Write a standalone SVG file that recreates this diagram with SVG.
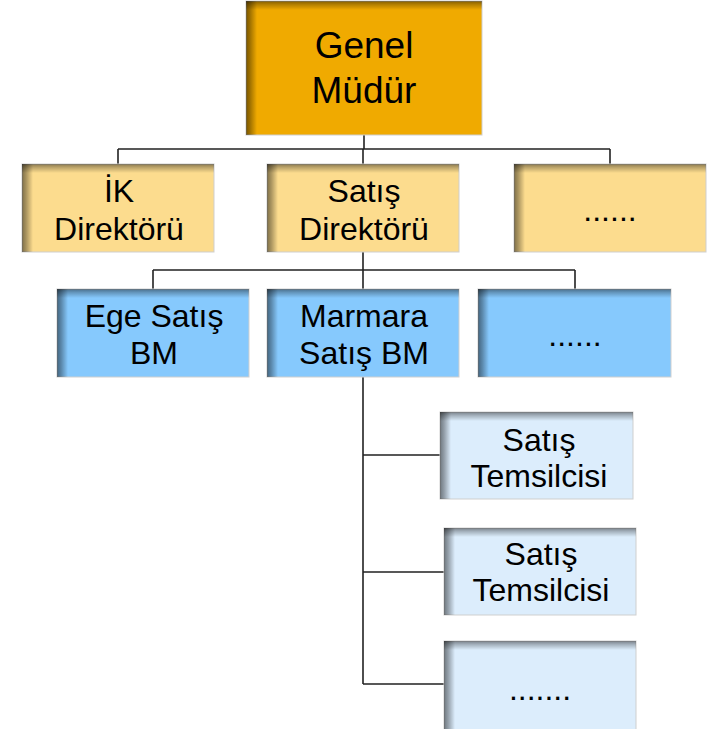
<svg xmlns="http://www.w3.org/2000/svg" width="714" height="729" viewBox="0 0 714 729">
<defs>
<linearGradient id="shL" x1="0" y1="0" x2="1" y2="0">
<stop offset="0" stop-color="#000" stop-opacity="0.5"/>
<stop offset="0.4" stop-color="#000" stop-opacity="0.32"/>
<stop offset="1" stop-color="#000" stop-opacity="0"/>
</linearGradient>
<linearGradient id="shT" x1="0" y1="0" x2="0" y2="1">
<stop offset="0" stop-color="#000" stop-opacity="0.45"/>
<stop offset="0.4" stop-color="#000" stop-opacity="0.25"/>
<stop offset="1" stop-color="#000" stop-opacity="0"/>
</linearGradient>
</defs>
<style>
.box{stroke:#cfcfcf;stroke-width:1}
.top{fill:#F0AA00}
.l1{fill:#FCDC8E}
.l2{fill:#86C9FD}
.l3{fill:#DCEDFC}
.sl{fill:url(#shL)}
.st{fill:url(#shT)}
text{font-family:"Liberation Sans",Arial,sans-serif;fill:#000;text-anchor:middle}
.t0{font-size:37px}
.t1{font-size:32px}
.con{stroke:#222;stroke-width:1.6;fill:none}
</style>
<rect width="714" height="729" fill="#fff"/>
<g id="connectors">
<path class="con" d="M364 135V149M118 149H610M118 149V164M363 149V164M610 149V164"/>
<path class="con" d="M363 252V289M153 270H575M153 270V289M575 270V289"/>
<path class="con" d="M363 377V684M363 455H440M363 572H444M363 684H444"/>
</g>
<g id="genel-mudur">
<rect class="box top" x="246" y="1" width="236" height="134"/>
<rect class="sl" x="246" y="1" width="11" height="134"/>
<rect class="st" x="246" y="1" width="236" height="9"/>
<text class="t0" x="364" y="58">Genel</text>
<text class="t0" x="364" y="103">Müdür</text>
</g>
<g id="ik-direktoru">
<rect class="box l1" x="22" y="164" width="192" height="88"/>
<rect class="sl" x="22" y="164" width="11" height="88"/>
<rect class="st" x="22" y="164" width="192" height="9"/>
<text class="t1" x="119" y="202">İK</text>
<text class="t1" x="119" y="240">Direktörü</text>
</g>
<g id="satis-direktoru">
<rect class="box l1" x="267" y="164" width="192" height="88"/>
<rect class="sl" x="267" y="164" width="11" height="88"/>
<rect class="st" x="267" y="164" width="192" height="9"/>
<text class="t1" x="364" y="202">Satış</text>
<text class="t1" x="364" y="240">Direktörü</text>
</g>
<g id="direktor-diger">
<rect class="box l1" x="514" y="164" width="192" height="88"/>
<rect class="sl" x="514" y="164" width="11" height="88"/>
<rect class="st" x="514" y="164" width="192" height="9"/>
<text class="t1" x="610" y="221">......</text>
</g>
<g id="ege-satis-bm">
<rect class="box l2" x="57" y="289" width="192" height="88"/>
<rect class="sl" x="57" y="289" width="11" height="88"/>
<rect class="st" x="57" y="289" width="192" height="9"/>
<text class="t1" x="154" y="327">Ege Satış</text>
<text class="t1" x="154" y="364">BM</text>
</g>
<g id="marmara-satis-bm">
<rect class="box l2" x="267" y="289" width="192" height="88"/>
<rect class="sl" x="267" y="289" width="11" height="88"/>
<rect class="st" x="267" y="289" width="192" height="9"/>
<text class="t1" x="364" y="327">Marmara</text>
<text class="t1" x="364" y="364">Satış BM</text>
</g>
<g id="bm-diger">
<rect class="box l2" x="478" y="289" width="193" height="88"/>
<rect class="sl" x="478" y="289" width="11" height="88"/>
<rect class="st" x="478" y="289" width="193" height="9"/>
<text class="t1" x="575" y="346">......</text>
</g>
<g id="satis-temsilcisi-1">
<rect class="box l3" x="440" y="412" width="193" height="87"/>
<rect class="sl" x="440" y="412" width="11" height="87"/>
<rect class="st" x="440" y="412" width="193" height="9"/>
<text class="t1" x="539" y="451">Satış</text>
<text class="t1" x="539" y="487">Temsilcisi</text>
</g>
<g id="satis-temsilcisi-2">
<rect class="box l3" x="444" y="528" width="192" height="87"/>
<rect class="sl" x="444" y="528" width="11" height="87"/>
<rect class="st" x="444" y="528" width="192" height="9"/>
<text class="t1" x="541" y="565">Satış</text>
<text class="t1" x="541" y="601">Temsilcisi</text>
</g>
<g id="temsilci-diger">
<rect class="box l3" x="444" y="641" width="192" height="100"/>
<rect class="sl" x="444" y="641" width="11" height="100"/>
<rect class="st" x="444" y="641" width="192" height="9"/>
<text class="t1" x="540" y="700">.......</text>
</g>
</svg>
